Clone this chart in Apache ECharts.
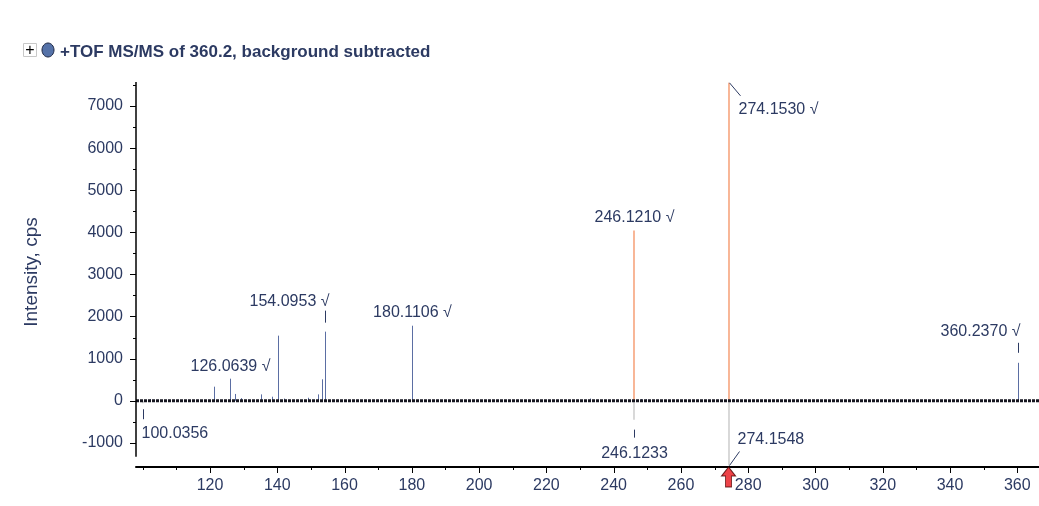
<!DOCTYPE html>
<html><head><meta charset="utf-8">
<script src="https://cdn.jsdelivr.net/npm/echarts@6/dist/echarts.min.js"></script>
<style>html,body{margin:0;padding:0;background:#fff}#c{width:1039px;height:506px}</style>
</head><body><div id="c"></div>
<script>
// ---- data ----
const xTicks = [120,140,160,180,200,220,240,260,280,300,320,340,360];
const xMinorTicks = [100,110,130,150,170,190,210,230,250,270,290,310,330,350];
const yTicks = [-1000,0,1000,2000,3000,4000,5000,6000,7000];
const yMinorTicks = [-500,500,1500,2500,3500,4500,5500,6500,7500];

// ordinary fragment peaks (m/z, intensity in cps)
const peakMz        = [102.1, 121.2, 126.06, 127.3, 129.1, 135.3, 138.3, 140.1, 142.0, 149.1, 152.2, 153.2, 154.10, 180.11, 232.9, 248.2, 249.7, 275.5, 360.24];
const peakIntensity = [40,    333,   523,    160,   60,    150,   95,    1545,  50,    70,    150,   508,   1640,   1781,   50,    40,    35,    40,    900];
// assigned (highlighted) peaks
const mainMz        = [246.121, 274.153];
const mainIntensity = [4040, 7550];
// subtracted background (negative) peaks
const negMz         = [100.0356, 246.1233, 274.1548];
const negIntensity  = [-60, -450, -1540];
// peak labels
const labelText      = ["274.1530 \u221A","246.1210 \u221A","180.1106 \u221A","154.0953 \u221A","126.0639 \u221A","360.2370 \u221A","100.0356","246.1233","274.1548"];
const labelMz        = [274.153, 246.121, 180.1106, 154.0953, 126.0639, 360.237, 100.0356, 246.1233, 274.1548];
const labelIntensity = [7550, 4040, 1781, 1640, 523, 900, -60, -450, -1540];
// precursor marker
const precursorMz = 274.1548;

// ---- layout / style ----
const X_MIN = 98, X_MAX = 366.45, Y_MIN = -1575, Y_MAX = 7570, Y_LINE_END = -1330;
const NAVY = '#2c3a62';
const FONT = '"Liberation Sans", Arial, sans-serif';
// per label: [align, dx, dy(text centre), leader]  leader: null | [x1,y1,x2,y2] relative to tip
const labelLayout = [
  ['left', 9, 27, [0,0,11,13]],
  ['center', 0, -13, null],
  ['center', 0, -13, null],
  ['right', 4, -30, [0,-21,0,-9]],
  ['center', 0, -12, null],
  ['right', 2, -31, [0,-20,0,-10]],
  ['left', -2, 30, [0,6,0,16]],
  ['center', 0, 34, [0,10,0,18]],
  ['left', 8, -26, [0,0,10,-14]]
];

function stick(color, width, crisp){
  return function(params, api){
    const x = api.value(0), y = api.value(1);
    const p0 = api.coord([x, 0]), p1 = api.coord([x, y]);
    const px = Math.round(p0[0]) + (crisp ? 0.5 : 0);
    return {type:'line', shape:{x1:px, y1:p0[1], x2:px, y2:p1[1]}, style:{stroke:color, lineWidth:width}};
  };
}

// tick marks: [value, 0=x/1=y, 1=major/0=minor]
const tickData = []
  .concat(xTicks.map(v=>[v,0,1]))
  .concat(xMinorTicks.map(v=>[v,0,0]))
  .concat(yTicks.map(v=>[v,1,1]))
  .concat(yMinorTicks.map(v=>[v,1,0]));

const chart = echarts.init(document.getElementById('c'), null, {renderer:'canvas'});
chart.setOption({
  animation:false,
  grid:{left:136, right:0, top:82, bottom:39, containLabel:false},
  xAxis:{type:'value', min:X_MIN, max:X_MAX, position:'bottom',
     axisLine:{show:true, onZero:false, lineStyle:{color:'#000', width:2}},
     axisTick:{show:false},
     axisLabel:{customValues:xTicks, color:NAVY, fontSize:16, fontFamily:FONT, margin:11},
     splitLine:{show:false}},
  yAxis:{type:'value', min:Y_MIN, max:Y_MAX, position:'left',
     axisLine:{show:false, onZero:false},
     axisTick:{show:false},
     axisLabel:{customValues:yTicks, color:NAVY, fontSize:16, fontFamily:FONT, margin:13, formatter:v=>String(v)},
     splitLine:{show:false}},
  graphic:[
    {type:'rect', shape:{x:23.5, y:43.5, width:13, height:13}, style:{fill:'#fff', stroke:'#c8c8c8', lineWidth:1}},
    {type:'text', x:30, y:50.5, style:{text:'+', fill:'#000', font:'16px '+FONT, textAlign:'center', textVerticalAlign:'middle'}},
    {type:'ellipse', shape:{cx:48, cy:50, rx:6, ry:7}, style:{fill:'#5572a8', stroke:'#1b2440', lineWidth:1}},
    {type:'text', x:60, y:52, style:{text:'+TOF MS/MS of 360.2, background subtracted', fill:NAVY, font:'bold 17px '+FONT, textAlign:'left', textVerticalAlign:'middle'}},
    {type:'text', x:32, y:272, rotation:Math.PI/2, style:{text:'Intensity, cps', fill:NAVY, font:'19px '+FONT, textAlign:'center', textVerticalAlign:'middle'}}
  ],
  series:[
    {type:'custom', name:'peaks', renderItem:stick('#5b6ea3', 1, true), data:peakMz.map((m,i)=>[m, peakIntensity[i]]), z:2},
    {type:'custom', name:'background', renderItem:stick('#c4c4c4', 1.3, false), data:negMz.map((m,i)=>[m, negIntensity[i]]), z:2},
    {type:'custom', name:'assigned', renderItem:stick('#f59060', 1.3, false), data:mainMz.map((m,i)=>[m, mainIntensity[i]]), z:2},
    {type:'line', name:'baseline', data:[[X_MIN,0],[X_MAX,0]], symbol:'none', z:3,
     lineStyle:{color:'#15151f', width:3, type:[3,1]}},
    {type:'custom', name:'axes', z:6, clip:false,
     data:tickData,
     renderItem:function(params, api){
       const v = api.value(0), isY = api.value(1) === 1, major = api.value(2) === 1;
       const len = major ? 6 : 3;
       if (isY) {
         const p = api.coord([X_MIN, v]);
         const y = Math.round(p[1]) + 0.5;
         return {type:'line', shape:{x1:p[0]-len, y1:y, x2:p[0], y2:y}, style:{stroke:'#000', lineWidth:1}};
       }
       const p = api.coord([v, Y_MIN]);
       const x = Math.round(p[0]) + 0.5;
       return {type:'line', shape:{x1:x, y1:p[1], x2:x, y2:p[1]+len}, style:{stroke:'#000', lineWidth:1}};
     }},
    {type:'custom', name:'yAxisLine', z:6, clip:false,
     data:[[Y_MAX, Y_LINE_END]],
     renderItem:function(params, api){
       const a = api.coord([X_MIN, api.value(0)]), b = api.coord([X_MIN, api.value(1)]);
       return {type:'line', shape:{x1:a[0], y1:a[1], x2:b[0], y2:b[1]}, style:{stroke:'#000', lineWidth:1.5}};
     }},
    {type:'custom', name:'labels', z:4, clip:false,
     data:labelMz.map((m,i)=>[m, labelIntensity[i], i]),
     renderItem:function(params, api){
       const i = api.value(2);
       const p = api.coord([api.value(0), api.value(1)]);
       const L = labelLayout[i];
       const px = Math.round(p[0]) + 0.5;
       const children = [{type:'text', x:px + L[1], y:p[1] + L[2],
         style:{text:labelText[i], fill:NAVY, font:'16px '+FONT, textAlign:L[0], textVerticalAlign:'middle'}}];
       if (L[3]) children.push({type:'line', shape:{x1:px+L[3][0], y1:p[1]+L[3][1], x2:px+L[3][2], y2:p[1]+L[3][3]}, style:{stroke:NAVY, lineWidth:1}});
       return {type:'group', children:children};
     }},
    {type:'scatter', name:'precursor', clip:false, z:5,
     data:[[precursorMz, Y_MIN]],
     symbol:'path://M7,0 L14,9 L10,9 L10,20 L4,20 L4,9 L0,9 Z', symbolSize:[14,20], symbolOffset:[0,10],
     itemStyle:{color:'#e8141a', borderColor:'#4a0000', borderWidth:1}, silent:true}
  ]
});
</script></body></html>
